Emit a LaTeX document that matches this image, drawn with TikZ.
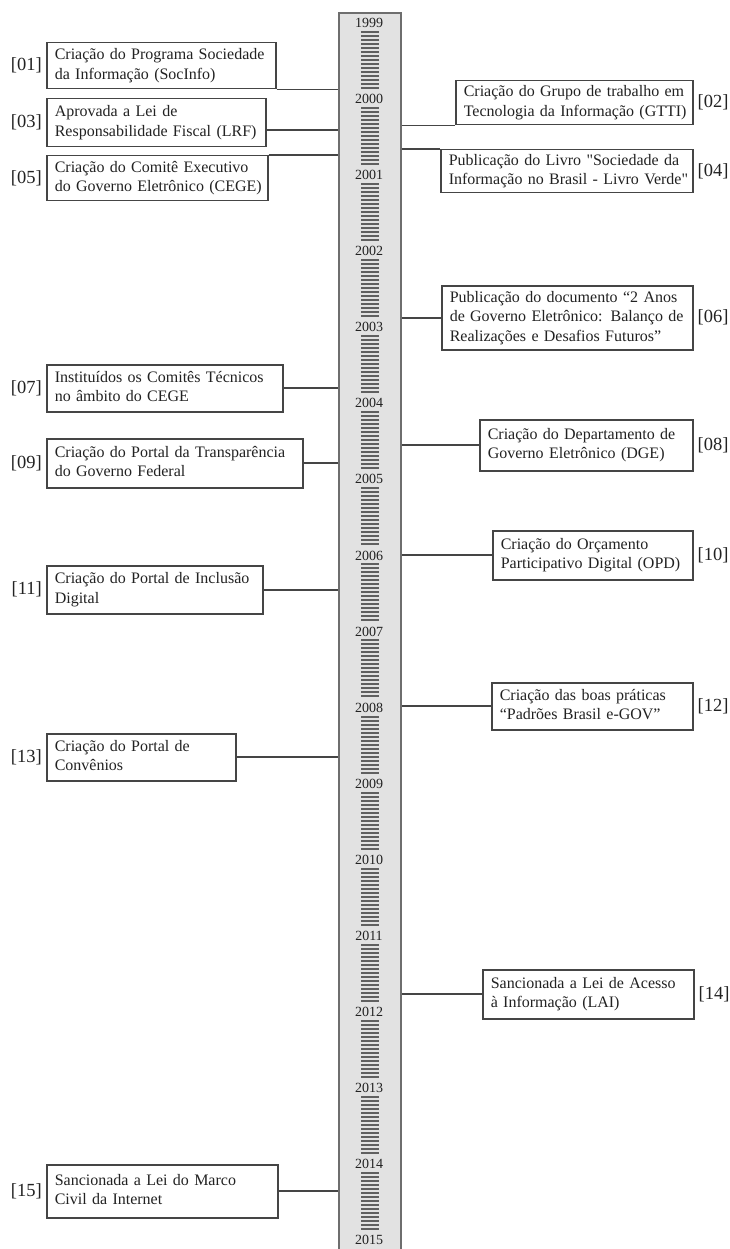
\documentclass[tikz,border=0pt]{standalone}
\usepackage{fontspec}
\setmainfont{Liberation Serif}[Ligatures=TeXOff]
\usetikzlibrary{calc}
\definecolor{txt}{HTML}{222222}
\definecolor{edge}{HTML}{454545}
\definecolor{barfill}{HTML}{E2E2E2}
\definecolor{baredge}{HTML}{6E6E6E}
\definecolor{tickc}{HTML}{606060}
\newcommand{\evtext}[1]{\begin{tabular}{@{}l@{}}#1\end{tabular}}
\tikzset{
  evbox/.style={draw=edge, line width=1.5pt, fill=white, anchor=north west, align=left,
    inner xsep=8pt, inner ysep=0pt, text=txt,
    font=\fontsize{16}{19.5}\selectfont},
  tag/.style={text=txt, font=\fontsize{18.5}{20}\selectfont, inner sep=0pt},
  conn/.style={draw=edge, line width=1.8pt},
  bar/.style={draw=baredge, fill=barfill, line width=1.8pt, anchor=north west, inner sep=0pt},
  yearlbl/.style={text=txt, font=\fontsize{14}{15}\selectfont, inner sep=0pt},
  tickmark/.style={draw=tickc, line width=1.5pt}
}
\begin{document}
\begin{tikzpicture}[x=1pt,y=-1pt]
\useasboundingbox (0,0) rectangle (730,1249);
\clip (0,0) rectangle (730,1249);
\fill[white] (0,0) rectangle (730,1249);
% timeline bar
\node[bar, minimum width=62pt, minimum height=1260pt] (bar) at (338,12) {};
\foreach \k in {0,...,15}{
  \foreach \i in {0,...,14}{
    \pgfmathtruncatemacro{\ty}{round(23+76.06*\k+9+4*\i)}
    \draw[tickmark] (361,\ty) -- (379,\ty);
  }
}
\foreach \k in {0,...,16}{
  \pgfmathtruncatemacro{\yr}{1999+\k}
  \pgfmathsetmacro{\yy}{23+76.06*\k}
  \node[yearlbl] (y\yr) at (369,\yy) {\yr};
}
% left boxes
\node[evbox, text width=213pt, minimum height=46pt] (b01) at (46,42) {\evtext{Criação do Programa Sociedade\\da Informação (SocInfo)}};
\node[evbox, text width=203pt, minimum height=48pt] (b03) at (46,98) {\evtext{Aprovada a Lei de\\Responsabilidade Fiscal (LRF)}};
\node[evbox, text width=205pt, minimum height=45pt] (b05) at (46,155) {\evtext{Criação do Comitê Executivo\\do Governo Eletrônico (CEGE)}};
\node[evbox, text width=220pt, minimum height=47pt] (b07) at (46,364) {\evtext{Instituídos os Comitês Técnicos\\no âmbito do CEGE}};
\node[evbox, text width=240pt, minimum height=49pt] (b09) at (46,438) {\evtext{Criação do Portal da Transparência\\do Governo Federal}};
\node[evbox, text width=200pt, minimum height=48pt] (b11) at (46,565) {\evtext{Criação do Portal de Inclusão\\Digital}};
\node[evbox, text width=173pt, minimum height=47pt] (b13) at (46,733) {\evtext{Criação do Portal de\\Convênios}};
\node[evbox, text width=215pt, minimum height=53pt] (b15) at (46,1164) {\evtext{Sancionada a Lei do Marco\\Civil da Internet}};
% right boxes
\node[evbox, text width=221pt, minimum height=44pt] (b02) at (455,80) {\evtext{Criação do Grupo de trabalho em\\Tecnologia da Informação (GTTI)}};
\node[evbox, text width=236pt, minimum height=43pt] (b04) at (440,149) {\evtext{Publicação do Livro "Sociedade da\\Informação no Brasil - Livro Verde"}};
\node[evbox, text width=235pt, minimum height=64pt] (b06) at (441,285) {\evtext{Publicação do documento “2 Anos\\de Governo Eletrônico: Balanço de\\Realizações e Desafios Futuros”}};
\node[evbox, text width=197pt, minimum height=51pt] (b08) at (479,419) {\evtext{Criação do Departamento de\\Governo Eletrônico (DGE)}};
\node[evbox, text width=184pt, minimum height=49pt] (b10) at (492,530) {\evtext{Criação do Orçamento\\Participativo Digital (OPD)}};
\node[evbox, text width=185pt, minimum height=47pt] (b12) at (491,682) {\evtext{Criação das boas práticas\\“Padrões Brasil e-GOV”}};
\node[evbox, text width=195pt, minimum height=49pt] (b14) at (482,969) {\evtext{Sancionada a Lei de Acesso\\à Informação (LAI)}};
% tags
\foreach \n in {01,03,05,07,09,11,13,15}{
  \node[tag, anchor=east] (t\n) at ([xshift=-4pt]b\n.west) {[\n]};
}
\foreach \n in {02,04,06,08,10,12,14}{
  \node[tag, anchor=west] (t\n) at ([xshift=4pt]b\n.east) {[\n]};
}
% connectors
\coordinate (c03) at ($(b03.east)+(0,7)$);
\draw[conn] (b01.south east) -- (b01.south east -| bar.west);
\draw[conn] (c03) -- (c03 -| bar.west);
\draw[conn] (b05.north east) -- (b05.north east -| bar.west);
\draw[conn] (b07.east) -- (b07.east -| bar.west);
\draw[conn] (b09.east) -- (b09.east -| bar.west);
\draw[conn] (b11.east) -- (b11.east -| bar.west);
\draw[conn] (b13.east) -- (b13.east -| bar.west);
\draw[conn] (b15.east) -- (b15.east -| bar.west);
\draw[conn] (b02.south west) -- (b02.south west -| bar.east);
\draw[conn] (b04.north west) -- (b04.north west -| bar.east);
\draw[conn] (b06.west) -- (b06.west -| bar.east);
\draw[conn] (b08.west) -- (b08.west -| bar.east);
\draw[conn] (b10.west) -- (b10.west -| bar.east);
\draw[conn] (b12.west) -- (b12.west -| bar.east);
\draw[conn] (b14.west) -- (b14.west -| bar.east);
\end{tikzpicture}
\end{document}
